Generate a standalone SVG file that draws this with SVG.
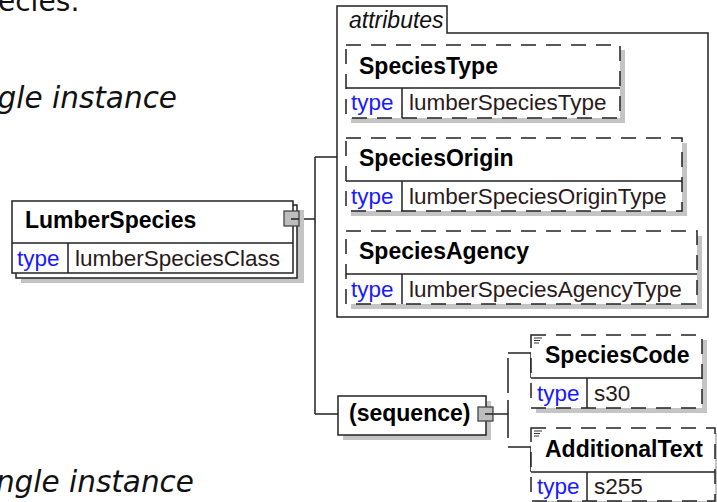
<svg xmlns="http://www.w3.org/2000/svg" width="717" height="502" viewBox="0 0 717 502">
<style>
  .bg{fill:#ffffff}
  .box{fill:#ffffff;stroke:#222;stroke-width:1.5}
  .dbox{fill:#ffffff;stroke:#222;stroke-width:1.5;stroke-dasharray:15 10}
  .ln{fill:none;stroke:#222;stroke-width:1.5}
  .sh{fill:#c4c4c4}
  .port{fill:#bdbdbd;stroke:#444;stroke-width:1.3}
  .name{font-family:"Liberation Sans",Arial,sans-serif;font-weight:bold;font-size:23px;fill:#000}
  .kw{font-family:"Liberation Sans",Arial,sans-serif;font-size:22.5px;fill:#1a1aff}
  .val{font-family:"Liberation Sans",Arial,sans-serif;font-size:22.5px;fill:#2a1a1a}
  .it{font-family:"Liberation Sans",Arial,sans-serif;font-style:italic;font-size:23px;fill:#111}
  .doc{font-family:"DejaVu Sans",Verdana,sans-serif;font-size:28px;fill:#111}
  .doci{font-family:"DejaVu Sans",Verdana,sans-serif;font-style:oblique;font-size:29.5px;fill:#111}
  .ico{stroke:#333;stroke-width:1.2}
</style>
<rect class="bg" x="0" y="0" width="717" height="502"/>

<!-- free text -->
<text class="doc" x="-2" y="11">ecies:</text>
<text class="doci" x="177" y="108" text-anchor="end">gle instance</text>
<text class="doci" x="194" y="492" text-anchor="end">ngle instance</text>

<!-- connectors -->
<g id="connectors">
  <path class="ln" d="M292 219 H315 M315 157 V414 M315 157 H337 M315 414 H338"/>
  <path class="ln" d="M486 414 H508"/>
  <path class="ln" d="M508 353 H531 V378 M508 447 H531 V472"/>
  <path class="ln" d="M508 358 V393 M508 400 V438"/>
</g>

<!-- LumberSpecies -->
<g id="n-lumberspecies">
  <rect class="sh" x="21" y="210" width="283" height="73"/>
  <rect class="box" x="16" y="205" width="281" height="73"/>
  <rect class="box" x="12" y="201" width="281" height="72"/>
  <path class="ln" d="M12 243 H293 M68 243 V273"/>
  <text class="name" x="25" y="228">LumberSpecies</text>
  <text class="kw" x="17" y="266">type</text>
  <text class="val" x="75" y="266">lumberSpeciesClass</text>
  <rect class="port" x="284" y="211" width="15" height="15"/>
  <path class="ln" d="M291 219 H299"/>
</g>

<!-- attributes container -->
<g id="n-attributes">
  <path class="box" d="M337 317 V6 H447 V33 H708 V317 Z"/>
  <text class="it" x="349" y="28">attributes</text>
</g>

<g id="n-speciestype">
  <rect class="sh" x="351" y="50" width="274" height="73"/>
  <rect class="dbox" x="346" y="45" width="274" height="73"/>
  <path class="ln" d="M346 88 H620 M402 88 V118"/>
  <text class="name" x="359" y="74">SpeciesType</text>
  <text class="kw" x="351" y="110">type</text>
  <text class="val" x="409" y="110">lumberSpeciesType</text>
</g>

<g id="n-speciesorigin">
  <rect class="sh" x="351" y="143" width="336" height="73"/>
  <rect class="dbox" x="346" y="138" width="336" height="73"/>
  <path class="ln" d="M346 181 H682 M402 181 V211"/>
  <text class="name" x="359" y="166">SpeciesOrigin</text>
  <text class="kw" x="351" y="204">type</text>
  <text class="val" x="409" y="204">lumberSpeciesOriginType</text>
</g>

<g id="n-speciesagency">
  <rect class="sh" x="351" y="236" width="351" height="73"/>
  <rect class="dbox" x="346" y="231" width="351" height="73"/>
  <path class="ln" d="M346 274 H697 M402 274 V304"/>
  <text class="name" x="359" y="259">SpeciesAgency</text>
  <text class="kw" x="351" y="297">type</text>
  <text class="val" x="409" y="297">lumberSpeciesAgencyType</text>
</g>

<!-- sequence -->
<g id="n-sequence">
  <rect class="sh" x="343" y="401" width="148" height="39"/>
  <rect class="box" x="338" y="396" width="148" height="39"/>
  <text class="name" x="349" y="421">(sequence)</text>
  <rect class="port" x="478" y="407" width="15" height="14"/>
  <path class="ln" d="M485 414 H493"/>
</g>

<g id="n-speciescode">
  <rect class="sh" x="536" y="340" width="171" height="73"/>
  <rect class="dbox" x="531" y="335" width="171" height="73"/>
  <path class="ln" d="M531 378 H702 M587 378 V408"/>
  <path class="ico" d="M534 338 H542 M534 340.5 H540 M534 343 H539"/>
  <text class="name" x="545" y="363">SpeciesCode</text>
  <text class="kw" x="537" y="401">type</text>
  <text class="val" x="594" y="401">s30</text>
</g>

<g id="n-additionaltext">
  <rect class="sh" x="536" y="433" width="184" height="73"/>
  <rect class="dbox" x="531" y="428" width="184" height="73"/>
  <path class="ln" d="M531 472 H715 M587 472 V501"/>
  <path class="ico" d="M534 431 H542 M534 433.5 H540 M534 436 H539"/>
  <text class="name" x="545" y="457">AdditionalText</text>
  <text class="kw" x="537" y="494">type</text>
  <text class="val" x="594" y="494">s255</text>
</g>
</svg>
